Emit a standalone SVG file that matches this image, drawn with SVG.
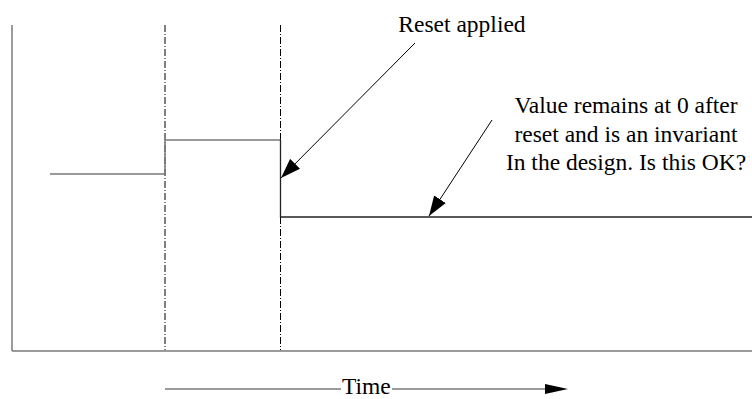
<svg xmlns="http://www.w3.org/2000/svg" width="752" height="399" viewBox="0 0 752 399">
<style>
.ax{stroke:#7a7a7a;stroke-width:1.5;fill:none}
.sig{stroke:#7a7a7a;stroke-width:1.5;fill:none}
.sig2{stroke:#222;stroke-width:1.3;fill:none}
.dash{stroke:#000;stroke-width:1;stroke-dasharray:7,2,1,2;fill:none}
.arr{stroke:#000;stroke-width:1;fill:none}
.t{font-family:'Liberation Serif','DejaVu Serif',serif;font-size:23.5px;fill:#000}
</style>
<defs>
<marker id="ah" viewBox="0 0 20 14" refX="20" refY="7" markerWidth="20" markerHeight="14" markerUnits="userSpaceOnUse" orient="auto">
<path d="M0,0 L20,7 L0,14 Z" fill="#000"/>
</marker>
</defs>
<g id="axes">
<line class="ax" x1="12" y1="25" x2="12" y2="351"/>
<line class="ax" x1="12" y1="351" x2="752" y2="351"/>
</g>
<g id="markers">
<line class="dash" x1="165" y1="25" x2="165" y2="350"/>
<line class="dash" x1="280.5" y1="25" x2="280.5" y2="350"/>
</g>
<g id="signal">
<polyline class="sig" points="50,174 165,174 165,140 280.5,140"/>
<polyline class="sig2" points="280.5,140 280.5,217 752,217"/>
</g>
<g id="label-reset">
<text class="t" font-family="Liberation Serif, DejaVu Serif, serif" font-size="23.5" x="462" y="32" text-anchor="middle">Reset applied</text>
</g>
<g id="label-invariant">
<text class="t" font-family="Liberation Serif, DejaVu Serif, serif" font-size="23.5" x="626" y="113" text-anchor="middle">Value remains at 0 after</text>
<text class="t" font-family="Liberation Serif, DejaVu Serif, serif" font-size="23.5" x="626" y="141.5" text-anchor="middle">reset and is an invariant</text>
<text class="t" font-family="Liberation Serif, DejaVu Serif, serif" font-size="23.5" x="626" y="170" text-anchor="middle">In the design. Is this OK?</text>
</g>
<g id="connectors">
<line class="arr" x1="415" y1="43" x2="281" y2="178" marker-end="url(#ah)"/>
<line class="arr" x1="492" y1="120" x2="429" y2="216" marker-end="url(#ah)"/>
</g>
<g id="time-axis">
<line class="ax" x1="165" y1="389" x2="341" y2="389"/>
<line class="ax" x1="392" y1="389" x2="550" y2="389"/>
<path d="M545,384 L568,389 L545,394 Z" fill="#000"/>
<text class="t" font-family="Liberation Serif, DejaVu Serif, serif" font-size="23.5" x="342" y="394">Time</text>
</g>
</svg>
